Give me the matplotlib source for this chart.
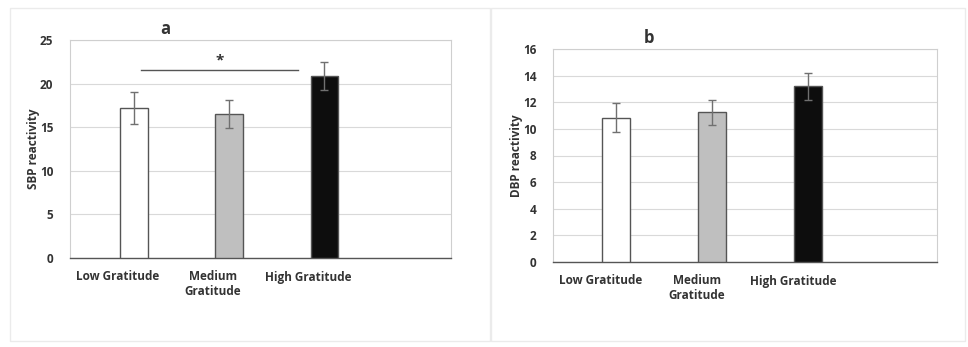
import matplotlib.pyplot as plt
from matplotlib.patches import Rectangle

categories = ["Low Gratitude", "Medium\nGratitude", "High Gratitude"]
bar_colors = ["#ffffff", "#bfbfbf", "#0d0d0d"]

sbp_means = [17.2, 16.5, 20.9]
sbp_errors = [1.8, 1.6, 1.6]
dbp_means = [10.85, 11.25, 13.2]
dbp_errors = [1.1, 0.95, 1.0]

TEXT = "#333333"
W, H = 968, 347


def px_axes(fig, left, top, right, bottom):
    return fig.add_axes([left / W, 1 - bottom / H, (right - left) / W, (bottom - top) / H])


def draw_panel(ax, means, errors, ymax, step, ylabel, letter, offset):
    xs = [i + offset for i in range(len(means))]
    ax.bar(xs, means, width=0.29, color=bar_colors, edgecolor="#555555",
           linewidth=1.0, zorder=3)
    ax.errorbar(xs, means, yerr=errors, fmt="none", ecolor="#707070",
                elinewidth=1.0, capsize=3, capthick=1.0, zorder=4)
    ax.set_xlim(-0.5, 3.5)
    ax.set_ylim(0, ymax)
    ax.set_yticks(range(0, ymax + 1, step))
    ax.set_xticks(range(len(categories)))
    ax.set_xticklabels(categories, fontsize=8.5, fontweight="bold", color=TEXT,
                       linespacing=1.15)
    ax.tick_params(axis="both", length=0, labelsize=8.5, colors=TEXT)
    ax.tick_params(axis="x", pad=9)
    ax.tick_params(axis="y", pad=12)
    for lab in ax.get_yticklabels():
        lab.set_fontweight("bold")
    ax.yaxis.grid(True, color="#d9d9d9", linewidth=0.8, zorder=0)
    ax.set_axisbelow(True)
    for side in ["top", "right", "left"]:
        ax.spines[side].set_color("#cfcfcf")
        ax.spines[side].set_linewidth(0.8)
    ax.spines["bottom"].set_color("#555555")
    ax.spines["bottom"].set_linewidth(1.0)
    ax.set_ylabel(ylabel, fontsize=8.5, fontweight="bold", color=TEXT, labelpad=0)
    ax.set_title(letter, fontsize=12, fontweight="bold", color=TEXT, x=0.25, pad=4)


plt.rcParams["font.family"] = ["Open Sans", "DejaVu Sans"]

fig = plt.figure(figsize=(W / 100, H / 100), dpi=100)
fig.patches.append(Rectangle((10 / W, 1 - 341 / H), 480 / W, 333 / H,
                             transform=fig.transFigure, fill=False,
                             edgecolor="#ebebeb", linewidth=1.0))
fig.patches.append(Rectangle((491 / W, 1 - 341 / H), 474 / W, 333 / H,
                             transform=fig.transFigure, fill=False,
                             edgecolor="#ebebeb", linewidth=1.0))

ax_a = px_axes(fig, 70, 40, 451, 258)
draw_panel(ax_a, sbp_means, sbp_errors, 25, 5, "SBP reactivity", "a", 0.17)
# significance bar between low and high gratitude
ax_a.plot([0.25, 1.89], [21.6, 21.6], color="#555555", linewidth=1.0, zorder=5)
ax_a.text(1.07, 21.9, "*", ha="center", va="bottom", fontsize=11,
          fontweight="bold", color=TEXT)

ax_b = px_axes(fig, 553, 49, 937, 262)
draw_panel(ax_b, dbp_means, dbp_errors, 16, 2, "DBP reactivity", "b", 0.16)

fig.savefig("out.png", dpi=100)
